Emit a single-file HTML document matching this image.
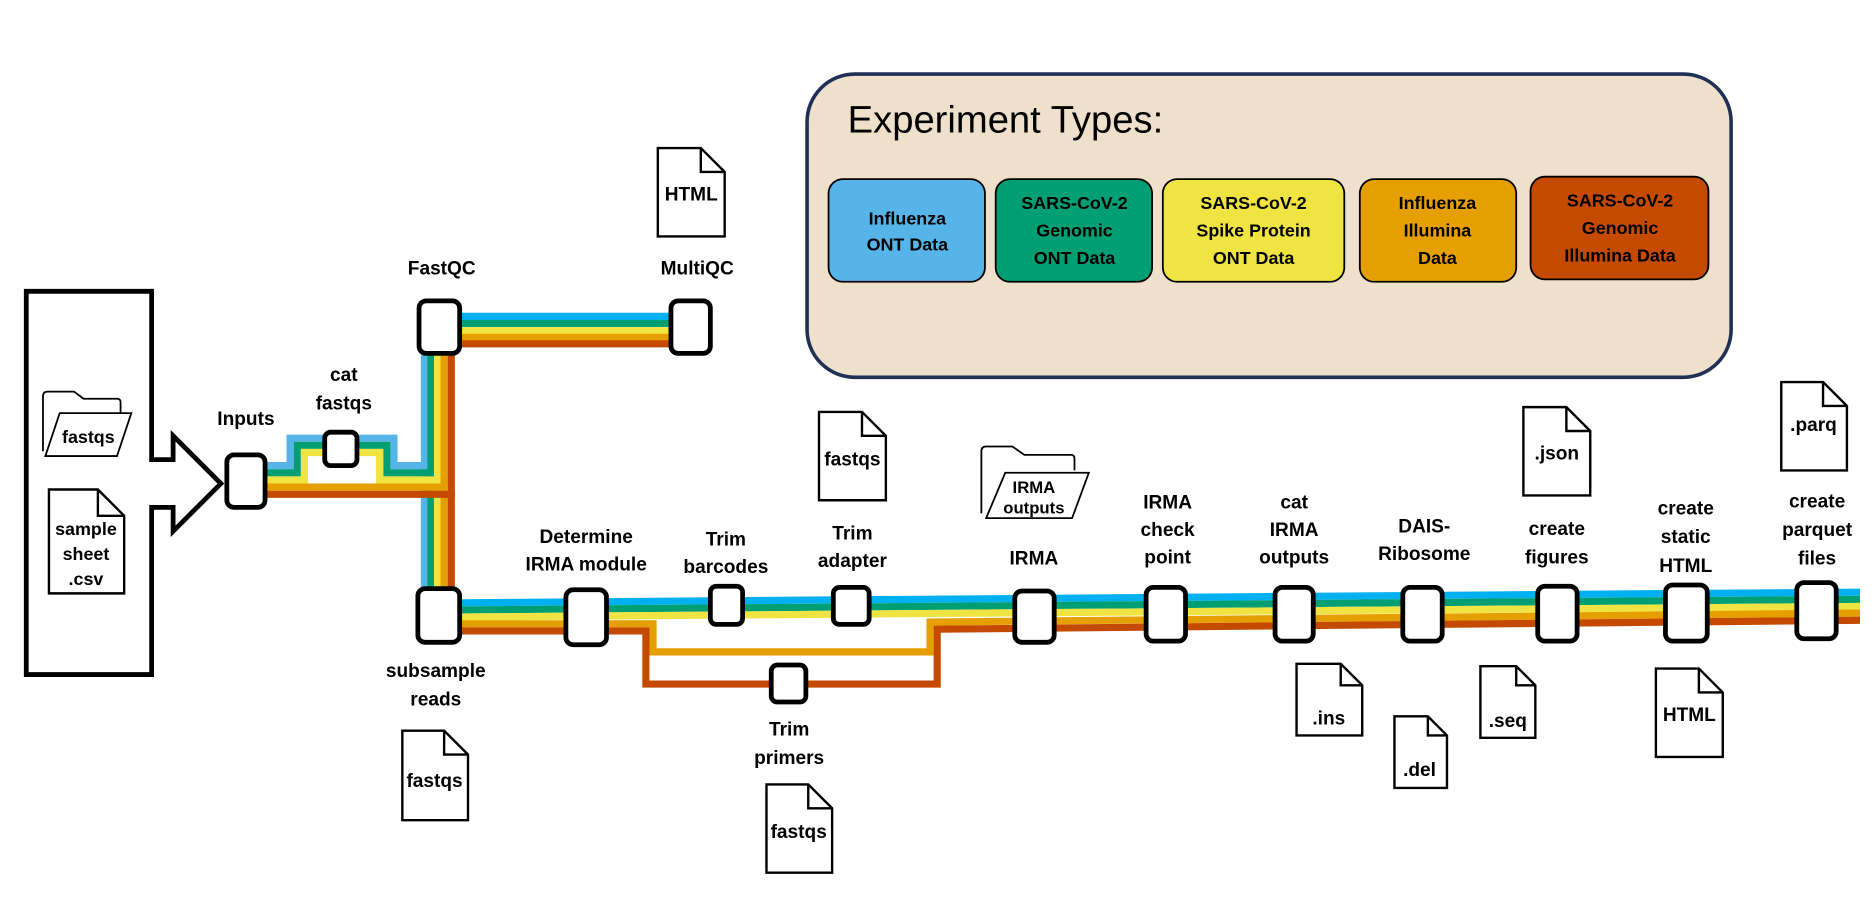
<!DOCTYPE html>
<html><head><meta charset="utf-8"><style>
html,body{margin:0;padding:0;background:#fff;}
svg{display:block;}
text{font-family:"Liberation Sans",sans-serif;font-weight:bold;fill:#000;}
</style></head><body>
<svg width="1872" height="910" viewBox="0 0 1568 762.2" xmlns="http://www.w3.org/2000/svg">
<!-- Input arrow box -->
<path d="M22 244 H127 V385 H145 V365 L185 405 L145 445 V425 H127 V565 H22 Z" fill="#fff" stroke="#000" stroke-width="4"/>
<!-- fastqs folder -->
<path d="M36 378 V332 q0-4 4-4 H62 l8 6 H98 q3 0 3 3 V346" fill="none" stroke="#000" stroke-width="1.5"/>
<path d="M38 382 L50 346 H110 L98 382 Z" fill="#fff" stroke="#000" stroke-width="1.5"/>
<text x="74" y="371" font-size="15" text-anchor="middle">fastqs</text>
<!-- sample sheet doc -->
<path d="M41 410 H82 L104 432 V497 H41 Z M82 410 V432 H104" fill="#fff" stroke="#000" stroke-width="2"/>
<text x="72" y="448" font-size="15" text-anchor="middle">sample</text>
<text x="72" y="469" font-size="15" text-anchor="middle">sheet</text>
<text x="72" y="490" font-size="15" text-anchor="middle">.csv</text>

<!-- Legend -->
<rect x="676" y="62" width="774" height="254" rx="40" fill="#EEE0CA" stroke="#1F2F55" stroke-width="3"/>
<text x="710" y="111" font-size="32" style="font-weight:normal">Experiment Types:</text>
<rect x="694" y="150" width="131" height="86" rx="12" fill="#56B4E9" stroke="#000" stroke-width="1.5"/>
<text x="760" y="188" font-size="15" text-anchor="middle">Influenza</text>
<text x="760" y="210" font-size="15" text-anchor="middle">ONT Data</text>
<rect x="834" y="150" width="131" height="86" rx="12" fill="#009E73" stroke="#000" stroke-width="1.5"/>
<text x="900" y="175" font-size="15" text-anchor="middle">SARS-CoV-2</text>
<text x="900" y="198" font-size="15" text-anchor="middle">Genomic</text>
<text x="900" y="221" font-size="15" text-anchor="middle">ONT Data</text>
<rect x="974" y="150" width="152" height="86" rx="12" fill="#F0E442" stroke="#000" stroke-width="1.5"/>
<text x="1050" y="175" font-size="15" text-anchor="middle">SARS-CoV-2</text>
<text x="1050" y="198" font-size="15" text-anchor="middle">Spike Protein</text>
<text x="1050" y="221" font-size="15" text-anchor="middle">ONT Data</text>
<rect x="1139" y="150" width="131" height="86" rx="12" fill="#E69F00" stroke="#000" stroke-width="1.5"/>
<text x="1204" y="175" font-size="15" text-anchor="middle">Influenza</text>
<text x="1204" y="198" font-size="15" text-anchor="middle">Illumina</text>
<text x="1204" y="221" font-size="15" text-anchor="middle">Data</text>
<rect x="1282" y="148" width="149" height="86" rx="12" fill="#C44A00" stroke="#000" stroke-width="1.5"/>
<text x="1357" y="173" font-size="15" text-anchor="middle">SARS-CoV-2</text>
<text x="1357" y="196" font-size="15" text-anchor="middle">Genomic</text>
<text x="1357" y="219" font-size="15" text-anchor="middle">Illumina Data</text>

<!-- Lines -->
<g fill="none" stroke-width="6" stroke-linejoin="miter">
<line x1="368" y1="265" x2="578" y2="265" stroke="#00B0F0"/>
<line x1="368" y1="271" x2="578" y2="271" stroke="#009E73"/>
<line x1="368" y1="277" x2="578" y2="277" stroke="#F0E442"/>
<line x1="368" y1="282.5" x2="578" y2="282.5" stroke="#E69F00"/>
<line x1="368" y1="288" x2="578" y2="288" stroke="#C44A00"/>
<line x1="355.5" y1="280" x2="355.5" y2="510" stroke="#56B4E9"/>
<line x1="361" y1="280" x2="361" y2="510" stroke="#009E73"/>
<line x1="366.5" y1="280" x2="366.5" y2="510" stroke="#F0E442"/>
<line x1="372" y1="280" x2="372" y2="510" stroke="#E69F00"/>
<line x1="378" y1="280" x2="378" y2="510" stroke="#C44A00"/>
<polyline points="206,390 243,390 243,367 330,367 330,390 355.5,390" stroke="#56B4E9"/>
<polyline points="206,396 249,396 249,373 324,373 324,396 361,396" stroke="#009E73"/>
<polyline points="206,402 255,402 255,379 318,379 318,402 366.5,402" stroke="#F0E442"/>
<line x1="206" y1="408" x2="372" y2="408" stroke="#E69F00"/>
<line x1="206" y1="414" x2="381" y2="414" stroke="#C44A00"/>
<line x1="368" y1="505" x2="1558" y2="496" stroke="#00B0F0"/>
<line x1="368" y1="511" x2="1558" y2="502" stroke="#009E73"/>
<line x1="368" y1="517" x2="1558" y2="508" stroke="#F0E442"/>
<polyline points="368,522.5 547,522.5 547,546 779,546 779,521 1558,513.5" stroke="#E69F00"/>
<polyline points="368,528.5 541,528.5 541,573 785,573 785,527 1558,519.5" stroke="#C44A00"/>
</g>

<!-- Nodes -->
<g fill="#fff" stroke="#000" stroke-width="4">
<rect x="190" y="381" width="32" height="44" rx="6"/>
<rect x="272" y="362" width="27" height="28" rx="5"/>
<rect x="351" y="252" width="34" height="44" rx="6"/>
<rect x="562" y="252" width="33" height="44" rx="6"/>
<rect x="350" y="493" width="35" height="45" rx="6"/>
<rect x="474" y="494" width="34" height="46" rx="6"/>
<rect x="595" y="491" width="27" height="32" rx="5"/>
<rect x="698" y="492" width="30" height="31" rx="5"/>
<rect x="646" y="557" width="29" height="31" rx="5"/>
<rect x="850" y="495" width="33" height="43" rx="6"/>
<rect x="960" y="492" width="33" height="45" rx="6"/>
<rect x="1068" y="492" width="32" height="45" rx="6"/>
<rect x="1175" y="492" width="33" height="45" rx="6"/>
<rect x="1288" y="491" width="33" height="46" rx="6"/>
<rect x="1395" y="490" width="35" height="47" rx="6"/>
<rect x="1505" y="488" width="33" height="47" rx="6"/>
</g>

<!-- Docs -->
<g fill="#fff" stroke="#000" stroke-width="2">
<path d="M551 124 H587 L607 144 V198 H551 Z M587 124 V144 H607"/>
<path d="M337 612 H372 L392 632 V687 H337 Z M372 612 V632 H392"/>
<path d="M686 345 H722 L742 365 V419 H686 Z M722 345 V365 H742"/>
<path d="M642 657 H677 L697 677 V731 H642 Z M677 657 V677 H697"/>
<path d="M1276 341 H1312 L1332 361 V415 H1276 Z M1312 341 V361 H1332"/>
<path d="M1492 320 H1527 L1547 340 V394 H1492 Z M1527 320 V340 H1547"/>
<path d="M1086 556 H1123 L1141 574 V616 H1086 Z M1123 556 V574 H1141"/>
<path d="M1168 600 H1196 L1212 616 V660 H1168 Z M1196 600 V616 H1212"/>
<path d="M1240 558 H1270 L1286 574 V618 H1240 Z M1270 558 V574 H1286"/>
<path d="M1387 560 H1423 L1443 580 V634 H1387 Z M1423 560 V580 H1443"/>
</g>
<!-- IRMA folder -->
<path d="M822 430 V378 q0-4 4-4 H848 l10 7 H897 q3 0 3 3 V394" fill="none" stroke="#000" stroke-width="1.5"/>
<path d="M826 434 L842 396 H912 L898 434 Z" fill="#fff" stroke="#000" stroke-width="1.5"/>
<text x="866" y="413" font-size="14" text-anchor="middle">IRMA</text>
<text x="866" y="430" font-size="14" text-anchor="middle">outputs</text>

<g font-size="16" text-anchor="middle">
<text x="579" y="168">HTML</text>
<text x="364" y="659">fastqs</text>
<text x="714" y="390">fastqs</text>
<text x="669" y="702">fastqs</text>
<text x="1304" y="385">.json</text>
<text x="1519" y="361">.parq</text>
<text x="1113" y="607">.ins</text>
<text x="1189" y="650">.del</text>
<text x="1263" y="609">.seq</text>
<text x="1415" y="604">HTML</text>

<text x="370" y="230">FastQC</text>
<text x="584" y="230">MultiQC</text>
<text x="206" y="356">Inputs</text>
<text x="288" y="319">cat</text>
<text x="288" y="343">fastqs</text>
<text x="491" y="455">Determine</text>
<text x="491" y="478">IRMA module</text>
<text x="608" y="457">Trim</text>
<text x="608" y="480">barcodes</text>
<text x="714" y="452">Trim</text>
<text x="714" y="475">adapter</text>
<text x="866" y="473">IRMA</text>
<text x="978" y="426">IRMA</text>
<text x="978" y="449">check</text>
<text x="978" y="472">point</text>
<text x="1084" y="426">cat</text>
<text x="1084" y="449">IRMA</text>
<text x="1084" y="472">outputs</text>
<text x="1193" y="446">DAIS-</text>
<text x="1193" y="469">Ribosome</text>
<text x="1304" y="448">create</text>
<text x="1304" y="472">figures</text>
<text x="1412" y="431">create</text>
<text x="1412" y="455">static</text>
<text x="1412" y="479">HTML</text>
<text x="1522" y="425">create</text>
<text x="1522" y="449">parquet</text>
<text x="1522" y="473">files</text>
<text x="365" y="567">subsample</text>
<text x="365" y="591">reads</text>
<text x="661" y="616">Trim</text>
<text x="661" y="640">primers</text>
</g>
</svg>
</body></html>
